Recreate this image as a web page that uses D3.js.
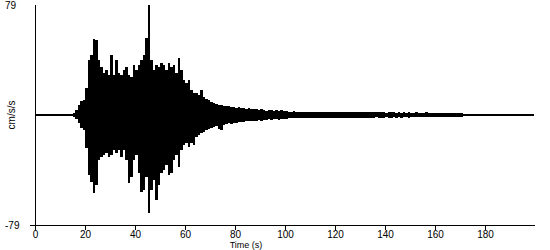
<!DOCTYPE html>
<html>
<head>
<meta charset="utf-8">
<script src="https://cdn.jsdelivr.net/npm/d3@7"></script>
<style>
    body { margin: 0; background: #fff; }
    text { font-family: "Liberation Sans", Arial, sans-serif; fill: #000; }
</style>
</head>
<body>
<svg width="550" height="250"></svg>
<script>
// peak acceleration (cm/s/s) in each 1 s window, t = 0..199
var accMax = [
    0.7, 0.7, 0.7, 0.7, 0.7, 0.7, 0.7, 0.7, 0.7, 0.7, 0.7, 0.7, 0.7, 0.7,
    0.7, 1.4, 3.6, 7.2, 10.1, 10.8, 19.4, 39.5, 43.1, 54.6, 53.9, 39.5, 34.5, 30.2, 32.3, 28.7,
    43.1, 28.7, 39.5, 30.2, 28.7, 32.3, 34.5, 28.7, 27.3, 35.9, 32.3, 35.9, 39.5, 43.1, 55.3,
    79, 39.5, 32.3, 35.9, 34.5, 37.3, 35.9, 32.3, 37.3, 34.5, 35.9, 30.2, 40.9, 32.3, 25.1,
    23.0, 25.1, 18.0, 15.8, 15.8, 14.4, 18.0, 12.9, 11.5, 10.8, 9.3, 8.6, 7.9, 7.2, 7.2,
    6.5, 6.5, 6.5, 5.7, 5.7, 5.0, 5.7, 5.0, 5.0, 4.3, 4.8, 4.0, 4.6, 4.3, 3.9,
    4.4, 3.6, 3.2, 3.8, 3.4, 3.0, 3.5, 3.1, 3.6, 2.9, 3.2, 2.4, 2.2, 2.6, 2.0,
    2.3, 2.1, 2.5, 1.9, 2.2, 2.4, 2.0, 2.2, 1.8, 2.3, 2.1, 2.0, 2.4, 1.9, 2.2,
    2.0, 1.8, 2.2, 2.1, 1.9, 2.3, 1.8, 2.0, 2.1, 1.9, 2.2, 1.8, 2.0, 1.9, 2.1,
    1.8, 2.0, 1.9, 1.8, 2.1, 1.7, 1.9, 1.8, 2.0, 1.6, 1.8, 1.7, 1.9, 1.6, 1.8,
    1.7, 1.6, 1.8, 1.5, 1.7, 1.6, 1.8, 1.5, 1.6, 1.7, 1.5, 1.6, 1.4, 1.6, 1.5,
    1.6, 1.4, 1.5, 1.3, 1.4, 1.2,
    0.7, 0.7, 0.7, 0.7, 0.7, 0.7, 0.7, 0.7, 0.7, 0.7, 0.7, 0.7, 0.7, 0.7, 0.7,
    0.7, 0.7, 0.7, 0.7, 0.7, 0.7, 0.7, 0.7, 0.7, 0.7, 0.7, 0.7, 0.7, 0.7
];
var accMin = [
    -0.7, -0.7, -0.7, -0.7, -0.7, -0.7, -0.7, -0.7, -0.7, -0.7, -0.7, -0.7, -0.7, -0.7,
    -0.7, -1.4, -2.9, -5.7, -9.3, -10.8, -23.7, -43.1, -48.1, -56.0, -50.3, -32.3, -30.2, -28.7, -27.3, -30.2,
    -28.7, -25.1, -27.3, -25.1, -30.2, -25.1, -32.3, -48.8, -44.5, -32.3, -28.7, -41.6, -55.3, -53.9, -44.5,
    -70.4, -53.9, -46.7, -61.0, -50.3, -41.6, -39.5, -35.9, -43.1, -41.6, -32.3, -28.7, -37.3, -25.1, -21.5,
    -20.1, -23.0, -20.1, -21.5, -15.8, -14.4, -12.9, -12.2, -10.8, -10.1, -9.3, -8.6, -7.9, -10.1, -10.8,
    -7.2, -6.5, -5.7, -6.5, -5.7, -5.7, -5.0, -5.0, -5.0, -4.3, -4.0, -4.6, -4.2, -4.4, -3.8,
    -4.1, -3.4, -3.7, -3.1, -3.5, -3.2, -2.8, -3.3, -3.0, -2.7, -3.1, -2.5, -2.1, -2.4, -2.2,
    -2.0, -2.3, -2.1, -2.4, -1.9, -2.2, -2.0, -2.3, -1.9, -2.1, -2.2, -1.8, -2.0, -2.3, -1.9,
    -2.1, -2.0, -1.8, -2.2, -2.0, -1.9, -2.1, -1.8, -2.0, -2.2, -1.8, -1.9, -2.1, -1.8, -2.0,
    -1.9, -1.7, -2.0, -1.8, -1.9, -1.7, -1.8, -2.0, -1.6, -1.8, -1.7, -1.9, -1.6, -1.7, -1.8,
    -1.6, -1.7, -1.5, -1.7, -1.6, -1.5, -1.7, -1.6, -1.5, -1.6, -1.4, -1.6, -1.5, -1.4, -1.5,
    -1.5, -1.4, -1.3, -1.4, -1.2, -1.3,
    -0.7, -0.7, -0.7, -0.7, -0.7, -0.7, -0.7, -0.7, -0.7, -0.7, -0.7, -0.7, -0.7, -0.7, -0.7,
    -0.7, -0.7, -0.7, -0.7, -0.7, -0.7, -0.7, -0.7, -0.7, -0.7, -0.7, -0.7, -0.7, -0.7
];
var timeTicks = [0, 20, 40, 60, 80, 100, 120, 140, 160, 180];
var yLimit = 79;

var svg = d3.select("svg");

var x = d3.scaleLinear().domain([0, 200]).range([35, 535]);
var y = d3.scaleLinear().domain([-yLimit, yLimit]).range([225, 5]);

// one column per second, from the negative to the positive peak
var area = d3.area()
    .x(function(d, i) { return x(i + 0.5); })
    .y0(function(d, i) { return y(accMin[i]); })
    .y1(function(d) { return y(d); })
    .curve(d3.curveStep);

svg.append("path")
    .datum(accMax)
    .attr("d", area)
    .attr("fill", "#000")
    .attr("shape-rendering", "crispEdges");

// axes
svg.append("line")
    .attr("x1", x(0)).attr("x2", x(0))
    .attr("y1", y(yLimit)).attr("y2", y(-yLimit))
    .attr("stroke", "#000")
    .attr("shape-rendering", "crispEdges");

svg.append("line")
    .attr("x1", x(0) - 5).attr("x2", x(200))
    .attr("y1", y(-yLimit)).attr("y2", y(-yLimit))
    .attr("stroke", "#000")
    .attr("shape-rendering", "crispEdges");

var xAxis = svg.append("g")
    .attr("transform", "translate(0," + y(-yLimit) + ")")
    .call(d3.axisBottom(x).tickValues(timeTicks).tickSize(5).tickSizeOuter(0).tickPadding(1));
xAxis.select(".domain").remove();
xAxis.selectAll("line").attr("stroke", "#000").attr("shape-rendering", "crispEdges");
xAxis.selectAll("text")
    .style("font-family", "'Liberation Sans', Arial, sans-serif")
    .style("font-size", "10px")
    .attr("fill", "#000");

svg.append("text")
    .attr("x", 5).attr("y", 9)
    .style("font-size", "10px")
    .text(yLimit);

svg.append("text")
    .attr("x", 5).attr("y", 229)
    .style("font-size", "10px")
    .text(-yLimit);

svg.append("text")
    .attr("transform", "translate(15," + y(0) + ") rotate(-90)")
    .attr("text-anchor", "middle")
    .style("font-size", "10px")
    .text("cm/s/s");

svg.append("text")
    .attr("x", 246).attr("y", 248)
    .attr("text-anchor", "middle")
    .style("font-size", "9px")
    .text("Time (s)");
</script>
</body>
</html>
